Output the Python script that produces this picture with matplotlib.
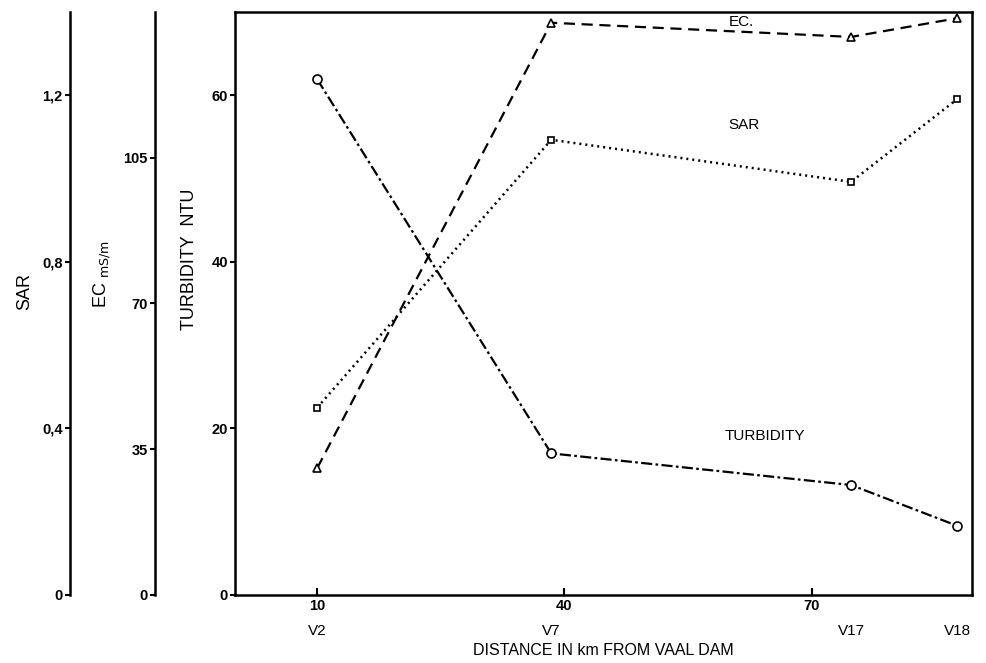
""" Turbidity, EC and SAR along the Vaal river """

import matplotlib
matplotlib.use("Agg")
import matplotlib.pyplot as plt

# stations and distances (km from Vaal Dam)
stations = ["V2", "V7", "V17", "V18"]
distance = [10, 38.4, 74.8, 87.7]

turbidity = [61.9, 17.0, 13.2, 8.3]      # NTU
ec = [30.5, 137.4, 134.0, 138.5]         # mS/m
sar = [0.45, 1.093, 0.992, 1.191]

x_ticks = [10, 40, 70]
turb_ticks = [0, 20, 40, 60]
ec_ticks = [0, 35, 70, 105]
sar_ticks = [0, 0.4, 0.8, 1.2]
sar_tick_labels = ["0", "0,4", "0,8", "1,2"]

plt.rcParams['font.family'] = ['Liberation Sans', 'DejaVu Sans']


def style_axis(ax, ticks, labels=None):
    """ Left axis with outward ticks and bold numbers """
    ax.set_yticks(ticks)
    if labels is not None:
        ax.set_yticklabels(labels)
    ax.tick_params(axis='y', direction='out', length=3.5, width=1.5,
                   labelsize=10.5, pad=1.5)
    for lab in ax.get_yticklabels():
        lab.set_fontweight('bold')


def side_axis(ax, offset, ylim):
    """ Extra y axis drawn as a bare spine left of the main axes """
    new = ax.twinx()
    new.spines['left'].set_position(('axes', offset))
    new.spines['left'].set_visible(True)
    new.spines['left'].set_linewidth(1.8)
    for side in ('right', 'top', 'bottom'):
        new.spines[side].set_visible(False)
    new.yaxis.set_ticks_position('left')
    new.yaxis.set_label_position('left')
    new.set_ylim(*ylim)
    return new


def main():
    """ Main """
    fig = plt.figure(figsize=(9.87, 6.63), dpi=100)
    ax = fig.add_axes([0.238, 0.1026, 0.747, 0.8794])

    # turbidity on main axes
    ax.plot(distance, turbidity, color='black', lw=1.6,
            linestyle=(0, (5, 1.5, 1.2, 1.5)),
            marker='o', ms=6.5, mfc='white', mec='black', mew=1.2)
    ax.set_xlim(0, 89.5)
    ax.set_ylim(0, 70)
    style_axis(ax, turb_ticks)
    ax.set_xticks(x_ticks)
    ax.tick_params(axis='x', direction='in', length=5, width=1.5,
                   labelsize=10.5, pad=3)
    for lab in ax.get_xticklabels():
        lab.set_fontweight('bold')
    for s in ax.spines.values():
        s.set_linewidth(1.8)
    ax.set_ylabel("TURBIDITY  NTU", fontsize=13)
    ax.yaxis.set_label_coords(-0.05, 0.575)
    ax.set_xlabel("DISTANCE IN km FROM VAAL DAM", fontsize=11.5)
    ax.xaxis.set_label_coords(0.5, -0.082)

    # station names under the distance ticks
    for name, d in zip(stations, distance):
        ax.annotate(name, xy=(d, 0), xycoords=('data', 'axes fraction'),
                    xytext=(0, -26), textcoords='offset points',
                    ha='center', va='center', fontsize=11)

    # EC axis
    ax_ec = side_axis(ax, -0.1085, (0, 140))
    style_axis(ax_ec, ec_ticks)
    ax_ec.set_ylabel(r"EC $_{\mathrm{mS/m}}$", fontsize=13)
    ax_ec.yaxis.set_label_coords(-0.166, 0.55)
    ax_ec.plot(distance, ec, color='black', lw=1.6, linestyle=(0, (5, 3)),
               marker='^', ms=6, mfc='white', mec='black', mew=1.2,
               clip_on=False)
    ax_ec.text(61.5, 137.5, "EC.", fontsize=11, ha='center', va='center')

    # SAR axis
    ax_sar = side_axis(ax, -0.224, (0, 1.4))
    style_axis(ax_sar, sar_ticks, sar_tick_labels)
    ax_sar.set_ylabel("SAR", fontsize=13)
    ax_sar.yaxis.set_label_coords(-0.273, 0.52)
    ax_sar.plot(distance, sar, color='black', lw=1.8, linestyle=(0, (0.8, 1.6)),
                marker='s', ms=5, mfc='white', mec='black', mew=1.2)
    ax_sar.text(61.8, 1.128, "SAR", fontsize=11, ha='center', va='center')

    ax.text(64.3, 19.1, "TURBIDITY", fontsize=11, ha='center', va='center')

    fig.savefig("out.png", dpi=100)


if __name__ == '__main__':
    main()
